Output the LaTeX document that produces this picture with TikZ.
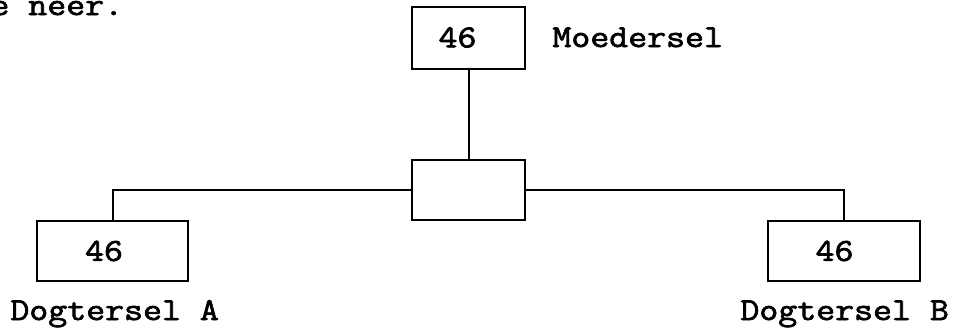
\documentclass[tikz,border=0pt]{standalone}
\usepackage{fontspec}
\newfontfamily\typer{Latin Modern Mono}[FakeStretch=1.15, FakeBold=2.2]
\begin{document}
\begin{tikzpicture}[x=0.5pt,y=-0.5pt,
  every node/.style={font=\typer\fontsize{16}{19}\selectfont, inner sep=0pt},
  cell/.style={draw, line width=1pt, minimum height=30pt},
  wire/.style={line width=1pt}]
\useasboundingbox (0,0) rectangle (954,329);

% cells
\node[cell, minimum width=56.5pt, minimum height=31pt] (mother) at (468.5,38) {};
\node[cell, minimum width=56.5pt] (split) at (468.5,190) {};
\node[cell, minimum width=75.5pt] (dA) at (112.5,251) {};
\node[cell, minimum width=76pt] (dB) at (844,251) {};

% chromosome counts
\node (nM) at (457.5,37.5) {46};
\node (nA) at (104,251) {46};
\node (nB) at (834.5,251) {46};

% labels
\node[anchor=base west] (prev) at (-10,15) {e neer.};
\node[anchor=base west] (lM) at (552,47) {Moedersel};
\node[anchor=base west] (lA) at (10,320) {Dogtersel A};
\node[anchor=base west] (lB) at (740,320) {Dogtersel B};

% connections
\draw[wire] (mother.south) -- (split.north);
\draw[wire] (split.west) -| (dA.north);
\draw[wire] (split.east) -| (dB.north);
\end{tikzpicture}
\end{document}
